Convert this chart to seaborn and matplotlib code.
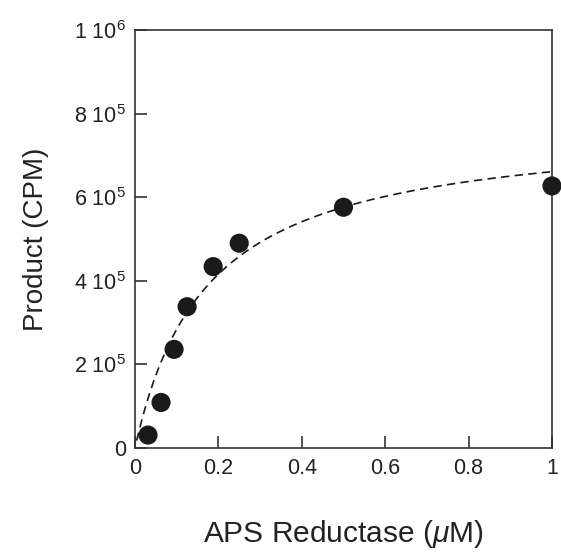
import numpy as np
import pandas as pd
import matplotlib
matplotlib.use("Agg")
import matplotlib.pyplot as plt
import seaborn as sns

# ---------- data ----------
aps_reductase_uM = [0.03125, 0.0625, 0.09375, 0.125, 0.1875, 0.25, 0.5, 1.0]
product_cpm = [31000, 109000, 236000, 338000, 434000, 490000, 576000, 627000]

# hyperbolic fit parameters
fit_vmax = 775500
fit_km = 0.173
fit_x_start = 0.004

y_ticks = [0, 200000, 400000, 600000, 800000, 1000000]
y_tick_labels = ["0", "2 10$^{5}$", "4 10$^{5}$", "6 10$^{5}$", "8 10$^{5}$", "1 10$^{6}$"]
x_ticks = [0, 0.2, 0.4, 0.6, 0.8, 1.0]
x_tick_labels = ["0", "0.2", "0.4", "0.6", "0.8", "1"]

sns.set_style("ticks")
plt.rcParams["font.family"] = ["Liberation Sans", "DejaVu Sans"]
plt.rcParams["mathtext.fontset"] = "custom"
plt.rcParams["mathtext.rm"] = "Liberation Sans"
plt.rcParams["mathtext.it"] = "Liberation Sans:italic"

df = pd.DataFrame({"x": aps_reductase_uM, "y": product_cpm})
fit_x = np.linspace(fit_x_start, 1.0, 200)
fit = pd.DataFrame({"x": fit_x, "y": fit_vmax * fit_x / (fit_km + fit_x)})

fig = plt.figure(figsize=(5.61, 5.52), dpi=100)
ax = fig.add_axes([0.2406, 0.1884, 0.7433, 0.7572])

sns.lineplot(data=fit, x="x", y="y", ax=ax, color="#1a1a1a",
             linewidth=1.2, linestyle=(0, (5, 3.2)))
sns.scatterplot(data=df, x="x", y="y", ax=ax, color="#1a1a1a", s=190,
                edgecolor="none", clip_on=False, zorder=3)

ax.set_xlim(0, 1)
ax.set_ylim(0, 1000000)
ax.set_xticks(x_ticks)
ax.set_xticklabels(x_tick_labels)
ax.set_yticks(y_ticks)
ax.set_yticklabels(y_tick_labels)

for s in ax.spines.values():
    s.set_visible(True)
    s.set_color("#333333")
    s.set_linewidth(1.2)

ax.tick_params(direction="in", length=8.5, width=1.2, color="#333333",
               labelsize=15.5, labelcolor="#222222")
ax.tick_params(axis="y", pad=6.5)
ax.tick_params(axis="x", pad=7)

ax.set_xlabel("APS Reductase ($\\mu$M)", fontsize=21.5, color="#222222", labelpad=28)
ax.set_ylabel("Product (CPM)", fontsize=20, color="#222222", labelpad=18)

fig.savefig("out.png", dpi=100)
